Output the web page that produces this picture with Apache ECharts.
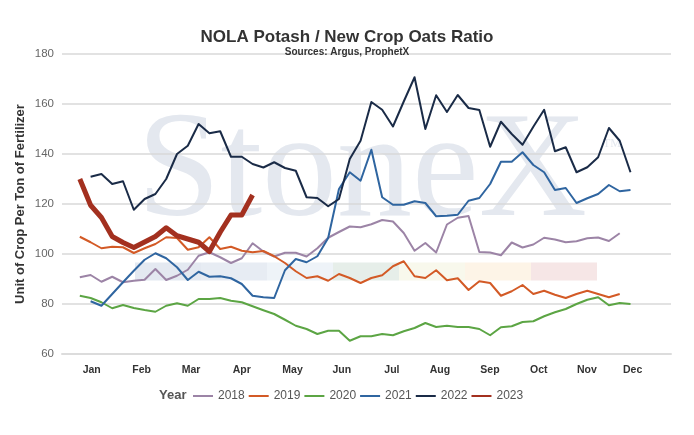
<!DOCTYPE html>
<html>
<head>
<meta charset="utf-8">
<script src="https://cdn.jsdelivr.net/npm/echarts@6/dist/echarts.min.js"></script>
<style>
html,body{margin:0;padding:0;background:#fff;}
#chart{width:694px;height:435px;}
</style>
</head>
<body>
<div id="chart"></div>
<script>
// Week-of-year series (value at week start + index)
const years = ['2018', '2019', '2020', '2021', '2022', '2023'];
const startWeeks = [1, 1, 1, 2, 2, 1];
const y2018 = [90.7, 91.6, 88.9, 90.9, 88.7, 89.3, 89.7, 94, 89.6, 91.3, 93.7, 99.3, 100.7, 98.7, 96.4, 98.3, 104.3, 101, 99, 100.5, 100.5, 99, 102.3, 106.5, 108.8, 111, 110.7, 111.9, 113.6, 113, 108.4, 101.3, 104.4, 100.6, 111.8, 114.5, 115.2, 100.8, 100.6, 99.5, 104.6, 102.6, 103.8, 106.5, 105.8, 104.7, 105.1, 106.3, 106.6, 105.2, 108.3];
const y2019 = [106.9, 104.7, 102.3, 102.9, 102.7, 100.4, 102.3, 104, 106.7, 106.4, 101.7, 102.7, 106.7, 102, 102.9, 101.3, 100.7, 101.2, 99.1, 96.4, 93.1, 90.4, 91.1, 89.3, 92, 90.4, 88.4, 90.4, 91.5, 95.1, 97.1, 91.1, 90.4, 93.5, 89.5, 90.3, 85.6, 89.1, 88.4, 83.3, 85.1, 87.6, 84, 85.3, 83.7, 82.4, 84, 85.3, 84, 82.7, 84];
const y2020 = [83.3, 82.4, 80.7, 78.3, 79.6, 78.4, 77.6, 76.9, 79.3, 80.3, 79.3, 82, 82, 82.4, 81.3, 80.7, 79.1, 77.5, 76, 73.7, 71.3, 70, 68, 69.3, 69.3, 65.3, 67.1, 67.1, 68, 67.5, 69.1, 70.4, 72.4, 70.8, 71.3, 70.8, 70.8, 70, 67.5, 70.7, 71.1, 72.8, 73.1, 75.1, 76.7, 78, 80, 81.7, 82.7, 79.5, 80.4, 80];
const y2021 = [81.1, 79.3, 84, 88.7, 93.3, 97.7, 100.3, 98.3, 94.7, 89.6, 92.9, 90.9, 91.1, 90.3, 88, 83.3, 82.7, 82.4, 93.5, 98, 96.7, 99.1, 106.4, 126, 132.7, 129.3, 141.7, 122.7, 119.7, 119.7, 121.1, 120.4, 115.1, 115.3, 115.7, 121.3, 122.4, 128, 136.9, 136.9, 140.7, 135.6, 132.7, 125.6, 126.4, 120.4, 122.3, 124, 127.6, 125.1, 125.6];
const y2022 = [130.9, 132, 128, 129.1, 117.7, 122, 124, 130, 140, 143.3, 152, 148.3, 149.1, 138.9, 138.9, 136, 134.6, 136.7, 134.4, 133.3, 122.7, 122.4, 119.1, 122, 138, 145.3, 160.8, 157.7, 151, 161, 170.7, 150, 163.5, 156.8, 163.6, 158.4, 157.6, 142.9, 152.9, 148, 143.7, 150.9, 157.7, 141.1, 142.7, 132.7, 134.7, 138.7, 150.4, 145.3, 132.7];
const y2023 = [130, 119.5, 114.6, 107, 104.6, 102.6, 104.8, 107, 110.5, 107.3, 106, 104.7, 101, 108.7, 115.6, 115.6, 123.6];
const seriesValues = [y2018, y2019, y2020, y2021, y2022, y2023];
// Month labels and their positions on the week axis
const months = ['Jan', 'Feb', 'Mar', 'Apr', 'May', 'Jun', 'Jul', 'Aug', 'Sep', 'Oct', 'Nov', 'Dec'];
const monthWeeks = [2.1, 6.73, 11.3, 16.0, 20.7, 25.26, 29.9, 34.35, 38.98, 43.5, 47.96, 52.2];
const yTicks = [60, 80, 100, 120, 140, 160, 180];

const colors = ['#9c84a6', '#d35a26', '#5ca544', '#2f65a0', '#1a2b47', '#a3301f'];
const widths = [2, 2, 2, 2, 2, 5];

const chart = echarts.init(document.getElementById('chart'), null, {renderer: 'canvas'});

const series = years.map((y, k) => ({
  name: y,
  type: 'line',
  showSymbol: false,
  symbol: 'none',
  data: seriesValues[k].map((v, i) => [startWeeks[k] + i, v]),
  lineStyle: {color: colors[k], width: widths[k], join: 'round'},
  itemStyle: {color: colors[k]},
  z: 2 + k
}));

const bandColors = ['#e4e9f1', '#e7ecf3', '#eef3f8', '#e6eee9', '#f8f8ec', '#fdf4e7', '#f6e6e6'];
const graphics = [
  {type: 'text', z: -10, silent: true, style: {text: 'StoneX', x: 137, y: 101, font: '150px "Liberation Serif", serif', fill: '#e4e8ef', verticalAlign: 'top', align: 'left'}},
  {type: 'text', z: -10, silent: true, style: {text: 'TM', x: 603, y: 138, font: '12px "Liberation Serif", serif', fill: '#e4e8ef'}},
  {type: 'text', z: 10, silent: true, style: {text: 'Year', x: 159, y: 395, font: 'bold 13px "Liberation Sans", Arial, sans-serif', fill: '#555', verticalAlign: 'middle', align: 'left'}}
].concat(bandColors.map((c, i) => ({
  type: 'rect', z: -10, silent: true,
  shape: {x: 135 + i * 66, y: 262.5, width: 66, height: 18},
  style: {fill: c}
})));

chart.setOption({
  animation: false,
  backgroundColor: '#fff',
  textStyle: {fontFamily: '"Liberation Sans", Arial, sans-serif'},
  title: {
    text: 'NOLA Potash / New Crop Oats Ratio',
    subtext: 'Sources: Argus, ProphetX',
    left: 'center',
    top: 24,
    itemGap: 1,
    textStyle: {fontSize: 17, fontWeight: 'bold', color: '#333'},
    subtextStyle: {fontSize: 10, fontWeight: 'bold', color: '#333'}
  },
  legend: {
    data: years,
    left: 188,
    top: 385,
    icon: 'rect',
    itemWidth: 20,
    itemHeight: 2,
    itemGap: 4,
    textStyle: {fontSize: 12, color: '#555'}
  },
  graphic: graphics,
  grid: {left: 62, right: 23, top: 54, bottom: 81, containLabel: false},
  xAxis: {
    type: 'value',
    min: -0.65,
    max: 55.75,
    axisLine: {show: true, lineStyle: {color: '#dcdcdc', width: 2}},
    axisTick: {show: false},
    splitLine: {show: false},
    axisLabel: {
      customValues: monthWeeks,
      formatter: function (v) {
        const i = monthWeeks.indexOf(v);
        return i >= 0 ? months[i] : '';
      },
      margin: 11,
      fontSize: 10.5,
      fontWeight: 'bold',
      color: '#333'
    }
  },
  yAxis: {
    type: 'value',
    min: 60,
    max: 180,
    interval: 20,
    name: 'Unit of Crop Per Ton of Fertilizer',
    nameLocation: 'middle',
    nameGap: 35,
    nameMoveOverlap: false,
    nameTextStyle: {fontSize: 13, fontWeight: 'bold', color: '#333'},
    axisLine: {show: false},
    axisTick: {show: false},
    axisLabel: {
      customValues: yTicks,
      fontSize: 11.5, color: '#666', margin: 8
    },
    splitLine: {show: true, lineStyle: {color: '#d8d8d8', width: 1.5}}
  },
  series: series
});
</script>
</body>
</html>
